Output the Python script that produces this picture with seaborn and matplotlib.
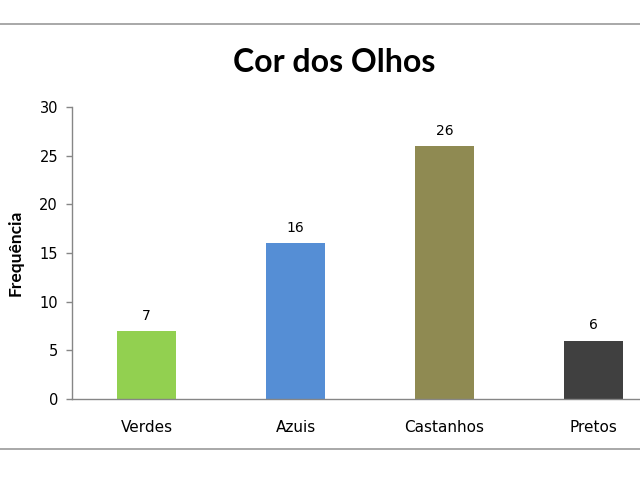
"""
Gráfico de barras: Cor dos Olhos
"""
import matplotlib
matplotlib.use("Agg")
import matplotlib.pyplot as plt
from matplotlib.lines import Line2D
import pandas as pd
import seaborn as sns

categorias = ["Verdes", "Azuis", "Castanhos", "Pretos"]
frequencias = [7, 16, 26, 6]
cores = ["#92D050", "#558ED5", "#8F8A52", "#404040"]

sns.set_style("white")
plt.rcParams['font.family'] = ['DejaVu Sans']
plt.rcParams['text.color'] = 'black'
plt.rcParams['xtick.color'] = 'black'
plt.rcParams['ytick.color'] = 'black'

df = pd.DataFrame({"Cor": categorias, "Frequência": frequencias})

fig = plt.figure(figsize=(6.4, 4.8), dpi=100)
ax = fig.add_axes([72/640, 81/480, 596/640, 292/480])

sns.barplot(data=df, x="Cor", y="Frequência", hue="Cor", palette=cores,
            width=0.4, legend=False, ax=ax, saturation=1, linewidth=0)

for i, v in enumerate(frequencias):
    ax.annotate(str(v), (i, v), xytext=(0, 6), textcoords="offset points",
                ha="center", va="bottom", fontsize=10, color="black")

ax.set_xlim(-0.5, 3.5)
ax.set_ylim(0, 30)
ax.set_yticks(range(0, 31, 5))
ax.set_xlabel("")
ax.set_ylabel("Frequência", fontsize=12.5, fontweight="bold", color="black",
              family=["Lato", "DejaVu Sans"])
ax.yaxis.set_label_coords(-48/596, 0.5)
ax.tick_params(axis="y", length=4, width=1, color="#868686", left=True,
               labelsize=10.5, pad=6, labelcolor="black")
ax.tick_params(axis="x", length=0, labelsize=11, pad=15, labelcolor="black")
for s in ["top", "right"]:
    ax.spines[s].set_visible(False)
for s in ["left", "bottom"]:
    ax.spines[s].set_color("#868686")
    ax.spines[s].set_linewidth(1)

fig.text(334/640, 1 - 62/480, "Cor dos Olhos", ha="center", va="center",
         fontsize=23, fontweight="bold", color="black",
         family=["Lato", "DejaVu Sans"])

for y in [24, 449]:
    fig.add_artist(Line2D([0, 1], [1 - y/480, 1 - y/480], color="#9A9A9A",
                          linewidth=1.2, transform=fig.transFigure))

fig.savefig("out.png", dpi=100)
